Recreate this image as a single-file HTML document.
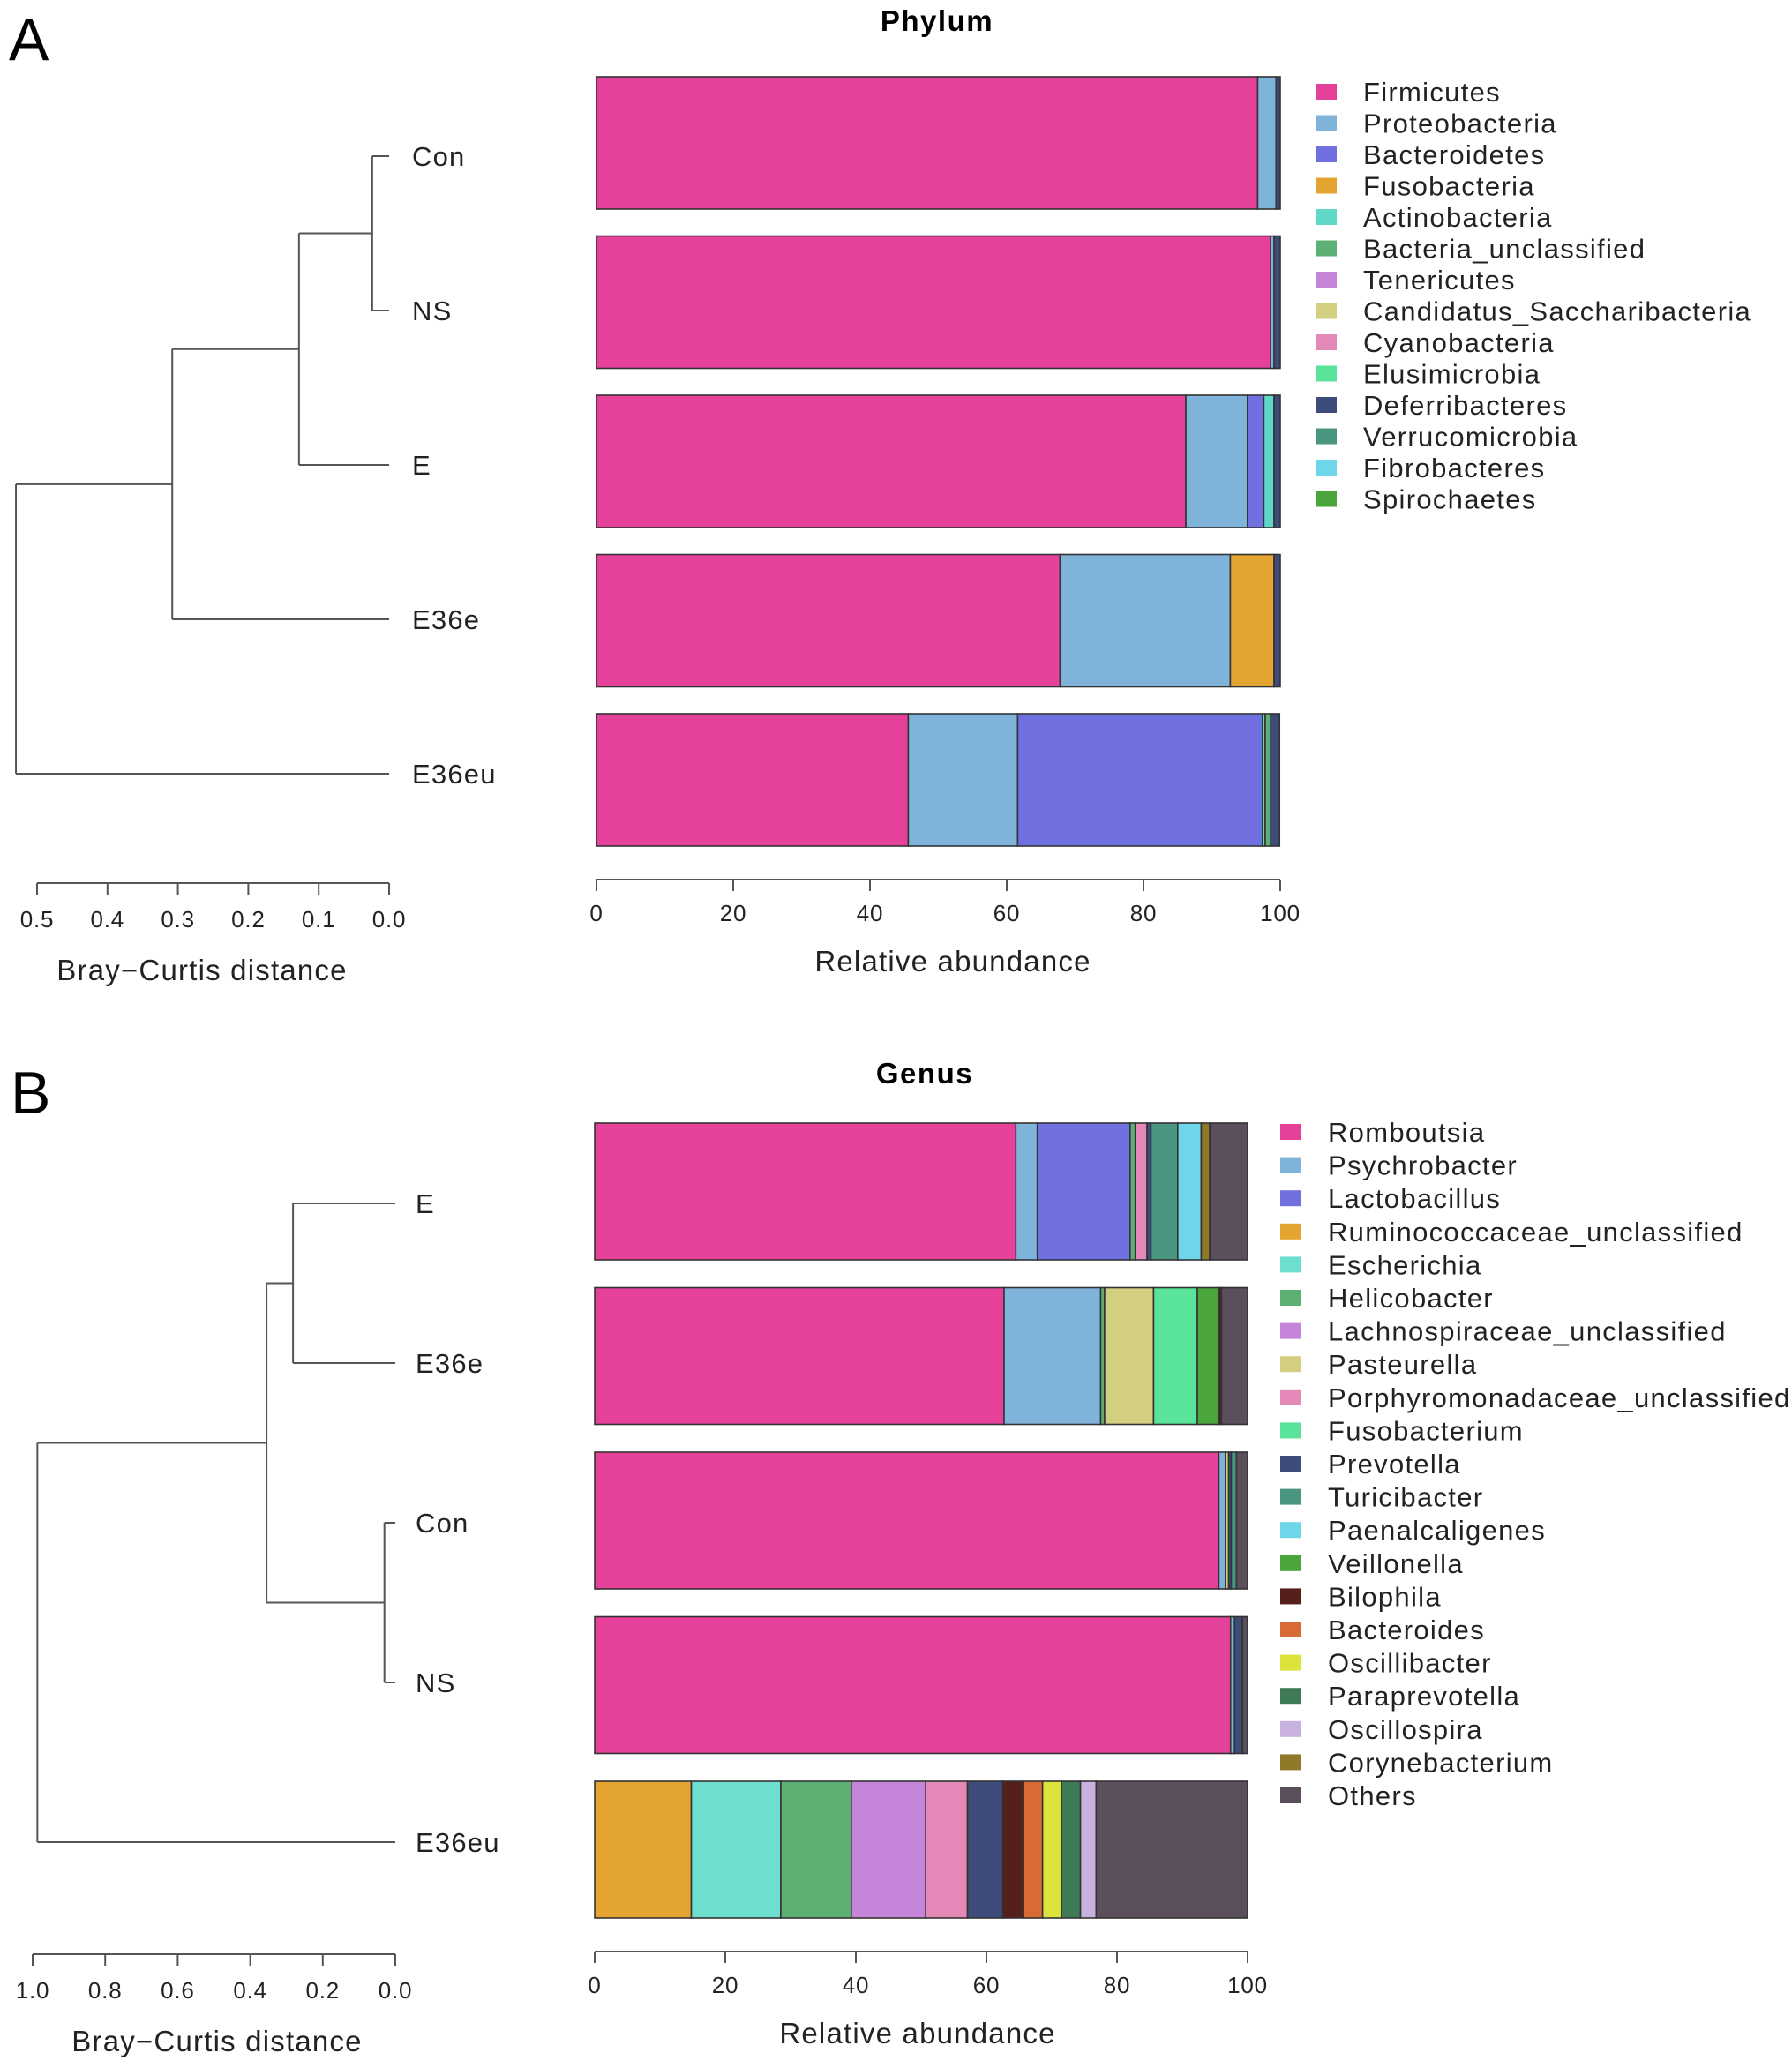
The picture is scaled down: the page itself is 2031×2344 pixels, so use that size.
<!DOCTYPE html>
<html><head><meta charset="utf-8"><style>
html,body{margin:0;padding:0;background:#fff;}
svg{display:block;font-family:"Liberation Sans",Arial,sans-serif;}
</style></head><body>
<svg id="fig" width="2031" height="2344" viewBox="0 0 2031 2344" xmlns="http://www.w3.org/2000/svg">
<text x="10" y="68" font-size="68">A</text>
<text x="1062" y="35" font-size="33" font-weight="bold" letter-spacing="1.5" text-anchor="middle">Phylum</text>
<text x="12" y="1262" font-size="68">B</text>
<text x="1048" y="1228" font-size="33" font-weight="bold" letter-spacing="1.5" text-anchor="middle">Genus</text>
<g id="gA"></g>
<g id="gB"></g>
</svg>
<script>
// ---- Panel A data (Phylum) ----
const samplesA = ["Con","NS","E","E36e","E36eu"];
const phylaA = ["Firmicutes","Proteobacteria","Bacteroidetes","Fusobacteria","Actinobacteria","Bacteria_unclassified","Tenericutes","Candidatus_Saccharibacteria","Cyanobacteria","Elusimicrobia","Deferribacteres","Verrucomicrobia","Fibrobacteres","Spirochaetes"];
const colorsA = ["#e5409a","#7fb3da","#7070e0","#e3a530","#5fd8c8","#5db073","#c585d8","#d3cf80","#e488b8","#5ae39a","#3d4c7a","#4a9580","#6dd6e8","#4aa63a"];
const firmicutes = [96.7,98.6,86.2,67.8,45.6];
const proteobacteria = [2.7,0.5,9.0,24.9,16.0];
const bacteroidetes = [0,0,2.4,0,35.8];
const fusobacteria = [0,0,0,6.4,0];
const actinobacteria = [0,0,1.5,0,0.4];
const bacteriaUnclassified = [0,0,0,0,0.8];
const deferribacteres = [0.6,0.9,0.9,0.9,1.3];
const zeros5 = [0,0,0,0,0];
const valuesA = [firmicutes,proteobacteria,bacteroidetes,fusobacteria,actinobacteria,bacteriaUnclassified,zeros5,zeros5,zeros5,zeros5,deferribacteres,zeros5,zeros5,zeros5];
const heightsA = [0.024,0.128,0.308,0.53];
const ticksA = [0.5,0.4,0.3,0.2,0.1,0.0];
const pctTicks = [0,20,40,60,80,100];

// ---- Panel B data (Genus) ----
const samplesB = ["E","E36e","Con","NS","E36eu"];
const generaB = ["Romboutsia","Psychrobacter","Lactobacillus","Ruminococcaceae_unclassified","Escherichia","Helicobacter","Lachnospiraceae_unclassified","Pasteurella","Porphyromonadaceae_unclassified","Fusobacterium","Prevotella","Turicibacter","Paenalcaligenes","Veillonella","Bilophila","Bacteroides","Oscillibacter","Paraprevotella","Oscillospira","Corynebacterium","Others"];
const colorsB = ["#e5409a","#7fb3da","#7070e0","#e3a530","#6cdfcf","#5db073","#c585d8","#d3cf80","#e488b8","#5ae39a","#3d4c7a","#4a9580","#6dd6e8","#4aa63a","#55201c","#d86a35","#dce33a","#3d7a55","#c8b0e0","#907a2a","#5a4f5a"];
const romboutsia = [64.5,62.7,95.6,97.4,0];
const psychrobacter = [3.3,14.8,1.0,0.6,0];
const lactobacillus = [14.2,0,0,0,0];
const ruminococcaceae = [0,0,0,0,14.8];
const escherichia = [0,0,0,0,13.7];
const helicobacter = [0.8,0.6,0,0,10.8];
const lachnospiraceae = [0,0,0,0,11.4];
const pasteurella = [0,7.5,0.5,0,0];
const porphyromonadaceae = [1.8,0,0,0,6.4];
const fusobacterium = [0,6.7,0,0,0];
const prevotella = [0.6,0,0.4,1.2,5.4];
const turicibacter = [4.1,0,0.8,0,0];
const paenalcaligenes = [3.6,0,0,0,0];
const veillonella = [0,3.3,0,0,0];
const bilophila = [0,0.4,0,0,3.2];
const bacteroides = [0,0,0,0,2.9];
const oscillibacter = [0,0,0,0,2.9];
const paraprevotella = [0,0,0,0,2.9];
const oscillospira = [0,0,0,0,2.4];
const corynebacterium = [1.3,0,0,0,0];
const others = [5.8,4.0,1.7,0.8,23.2];
const valuesB = [romboutsia,psychrobacter,lactobacillus,ruminococcaceae,escherichia,helicobacter,lachnospiraceae,pasteurella,porphyromonadaceae,fusobacterium,prevotella,turicibacter,paenalcaligenes,veillonella,bilophila,bacteroides,oscillibacter,paraprevotella,oscillospira,corynebacterium,others];
const heightsB = [0.282,0.03,0.355,0.987];
const ticksB = [1.0,0.8,0.6,0.4,0.2,0.0];

const NS = "http://www.w3.org/2000/svg";
function el(parent, tag, attrs, text){
  const e = document.createElementNS(NS, tag);
  for (const k in attrs) e.setAttribute(k, attrs[k]);
  if (text !== undefined) e.textContent = text;
  parent.appendChild(e);
  return e;
}
const LINE = "#555";

function drawPanel(g, cfg){
  const sx = v => cfg.x0 + (cfg.x1 - cfg.x0) * v / 100;
  cfg.samples.forEach((s, i) => {
    const top = cfg.barTop + i * cfg.barStep;
    let cum = 0;
    cfg.values.forEach((arr, k) => {
      const v = arr[i];
      if (v <= 0) return;
      const r = el(g, "rect", {x: sx(cum), y: top, width: sx(cum + v) - sx(cum), height: cfg.barH, fill: cfg.colors[k], stroke: "#333", "stroke-width": 1.6});
      
      
      cum += v;
    });
  });
  const ax = el(g, "line", {x1: sx(0), x2: sx(100), y1: cfg.axY, y2: cfg.axY, stroke: LINE, "stroke-width": 2});
  
  
  pctTicks.forEach(t => {
    const tk = el(g, "line", {x1: sx(t), x2: sx(t), y1: cfg.axY, y2: cfg.axY + 13, stroke: LINE, "stroke-width": 2});
    
    
    const tl = el(g, "text", {x: sx(t), y: cfg.axY + 47, "font-size": 26, "letter-spacing": 0.8, "text-anchor": "middle", fill: "#222"}, String(t));
    
    
  });
  const at = el(g, "text", {x: cfg.axTitleX, y: cfg.axY + 104, "font-size": 33, "letter-spacing": 1.2, "text-anchor": "middle", fill: "#222"}, "Relative abundance");
  
  
  cfg.names.forEach((n, k) => {
    const y = cfg.legY + k * cfg.legStep;
    const sw = el(g, "rect", {x: cfg.legX, y: y - 9, width: 24, height: 18, fill: cfg.colors[k]});
    
    
    const lt = el(g, "text", {x: cfg.legX + 54, y: y + 11, "font-size": 31, "letter-spacing": 1.3, fill: "#222"}, n);
    
    
  });
  const dx = h => cfg.d0 - (cfg.d0 - cfg.dMax) * h / cfg.dTop;
  const leafY = i => cfg.leafY0 + i * cfg.leafStep;
  function seg(x1, y1, x2, y2){
    const l = el(g, "line", {x1, y1, x2, y2, stroke: LINE, "stroke-width": 2});
    
    
  }
  function join(a, b, h){
    const x = dx(h);
    seg(a.x, a.y, x, a.y); seg(b.x, b.y, x, b.y); seg(x, a.y, x, b.y);
    return {x: x, y: (a.y + b.y) / 2};
  }
  const leaves = cfg.samples.map((s, i) => ({x: dx(0), y: leafY(i)}));
  cfg.build(leaves, join);
  cfg.samples.forEach((s, i) => {
    const t = el(g, "text", {x: cfg.labX, y: leafY(i) + 11, "font-size": 31, "letter-spacing": 1.2, fill: "#222"}, s);
    
    
  });
  const dax = el(g, "line", {x1: dx(cfg.ticks[0]), x2: dx(0), y1: cfg.dAxY, y2: cfg.dAxY, stroke: LINE, "stroke-width": 2});
  
  
  cfg.ticks.forEach(t => {
    const tk = el(g, "line", {x1: dx(t), x2: dx(t), y1: cfg.dAxY, y2: cfg.dAxY + 13, stroke: LINE, "stroke-width": 2});
    
    
    const tl = el(g, "text", {x: dx(t), y: cfg.dAxY + 50, "font-size": 26, "letter-spacing": 0.8, "text-anchor": "middle", fill: "#222"}, t.toFixed(1));
    
    
  });
  const dt = el(g, "text", {x: cfg.dTitleX, y: cfg.dAxY + 110, "font-size": 33, "letter-spacing": 1.2, "text-anchor": "middle", fill: "#222"}, "Bray\u2212Curtis distance");
  
  
}

drawPanel(document.getElementById("gA"), {
  samples: samplesA, names: phylaA, colors: colorsA, values: valuesA,
  x0: 676, x1: 1451, barTop: 87, barH: 150, barStep: 180.5, axY: 997, axTitleX: 1080,
  legX: 1491, legY: 104, legStep: 35.5,
  d0: 441, dMax: 42, dTop: 0.5, leafY0: 177, leafStep: 175, labX: 467, dAxY: 1001, dTitleX: 229,
  ticks: ticksA,
  build: (L, join) => {
    const n1 = join(L[0], L[1], heightsA[0]);
    const n2 = join(n1, L[2], heightsA[1]);
    const n3 = join(n2, L[3], heightsA[2]);
    join(n3, L[4], heightsA[3]);
  }
});
drawPanel(document.getElementById("gB"), {
  samples: samplesB, names: generaB, colors: colorsB, values: valuesB,
  x0: 674, x1: 1414, barTop: 1273, barH: 155, barStep: 186.5, axY: 2212, axTitleX: 1040,
  legX: 1451, legY: 1283, legStep: 37.6,
  d0: 448, dMax: 37, dTop: 1.0, leafY0: 1364, leafStep: 181, labX: 471, dAxY: 2215, dTitleX: 246,
  ticks: ticksB,
  build: (L, join) => {
    const a = join(L[0], L[1], heightsB[0]);
    const b = join(L[2], L[3], heightsB[1]);
    const c = join(a, b, heightsB[2]);
    join(c, L[4], heightsB[3]);
  }
});
</script>
</body></html>
